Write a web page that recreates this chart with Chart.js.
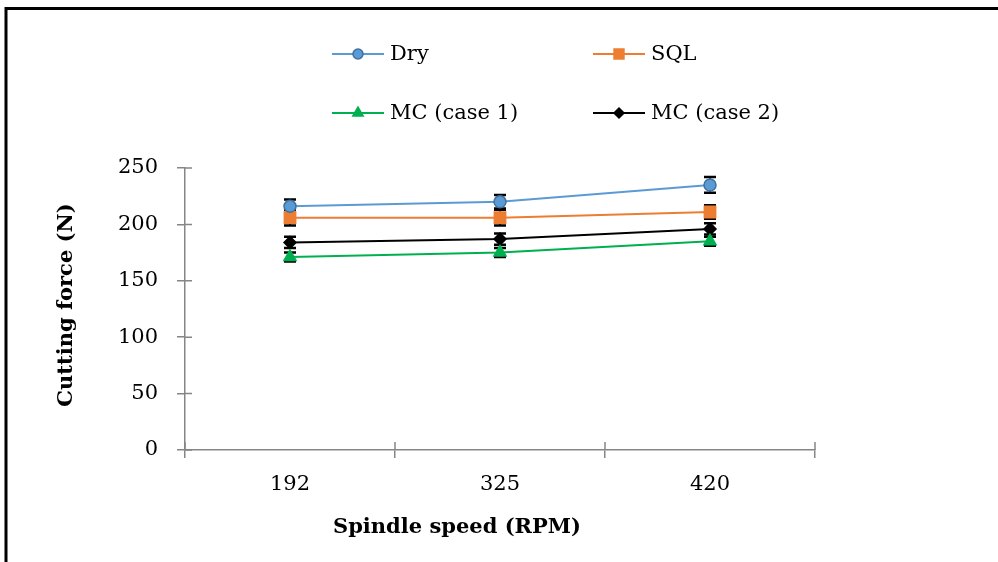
<!DOCTYPE html>
<html>
<head>
<meta charset="utf-8">
<script src="https://cdn.jsdelivr.net/npm/chart.js@4/dist/chart.umd.min.js"></script>
<style>
html, body { margin: 0; padding: 0; background: #fff; }
#wrap { width: 998px; height: 562px; position: relative; }
</style>
</head>
<body>
<div id="wrap"><canvas id="chart-area"></canvas></div>
<script>
var speeds = ["192", "325", "420"];
var dryVals = [216, 220, 235];
var sqlVals = [206, 206, 211];
var mc1Vals = [171, 175, 185];
var mc2Vals = [184, 187, 196];
var dryErr = [6, 6, 7];
var sqlErr = [7, 7, 6];
var mc1Err = [4, 4, 4];
var mc2Err = [5, 5, 5];
var seriesNames = ["Dry", "SQL", "MC (case 1)", "MC (case 2)"];

var serif = "'DejaVu Serif', serif";
var axisGrey = "#868686";

function mkSet(label, vals, errs, line, fill, edge, style, r) {
    return {
        label: label, data: vals, errs: errs,
        borderColor: line, borderWidth: 2,
        pointStyle: style, pointRadius: r, pointHoverRadius: r,
        pointBackgroundColor: fill, pointBorderColor: edge, pointBorderWidth: 1.5,
        tension: 0, fill: false
    };
}

var datasets = [
    mkSet(seriesNames[0], dryVals, dryErr, "#5B9BD5", "#5B9BD5", "#41719C", "circle", 6),
    mkSet(seriesNames[1], sqlVals, sqlErr, "#ED7D31", "#ED7D31", "#ED7D31", "rect", 8),
    mkSet(seriesNames[2], mc1Vals, mc1Err, "#00B050", "#00B050", "#00B050", "triangle", 7),
    mkSet(seriesNames[3], mc2Vals, mc2Err, "#000000", "#000000", "#000000", "rectRot", 6)
];

// error bars, drawn under the markers
var errorBars = {
    id: 'errorBars',
    beforeDatasetsDraw: function(chart) {
        var ctx = chart.ctx, y = chart.scales.y;
        ctx.save();
        ctx.strokeStyle = "#000";
        chart.data.datasets.forEach(function(ds, di) {
            chart.getDatasetMeta(di).data.forEach(function(pt, i) {
                var top = y.getPixelForValue(ds.data[i] + ds.errs[i]);
                var bot = y.getPixelForValue(ds.data[i] - ds.errs[i]);
                ctx.lineWidth = 1.5;
                ctx.beginPath();
                ctx.moveTo(pt.x, top); ctx.lineTo(pt.x, bot);
                ctx.stroke();
                ctx.lineWidth = 2.5;
                ctx.beginPath();
                ctx.moveTo(pt.x - 6, top); ctx.lineTo(pt.x + 6, top);
                ctx.moveTo(pt.x - 6, bot); ctx.lineTo(pt.x + 6, bot);
                ctx.stroke();
            });
        });
        ctx.restore();
    }
};

// inner half of the crossing tick marks, titles, legend and frame
var decor = {
    id: 'decor',
    afterDraw: function(chart) {
        var ctx = chart.ctx, xs = chart.scales.x, ys = chart.scales.y;
        var ca = chart.chartArea;
        ctx.save();
        ctx.strokeStyle = axisGrey;
        ctx.lineWidth = 1.5;
        ctx.beginPath();
        ys.ticks.forEach(function(t) {
            var py = ys.getPixelForValue(t.value);
            ctx.moveTo(ca.left, py); ctx.lineTo(ca.left + 7, py);
        });
        for (var i = 0; i <= speeds.length; i++) {
            var px = xs.getPixelForValue(i - 0.5);
            ctx.moveTo(px, ca.bottom); ctx.lineTo(px, ca.bottom - 8);
        }
        ctx.stroke();

        // axis titles
        ctx.fillStyle = "#000";
        ctx.font = "bold 21px " + serif;
        ctx.textAlign = "center";
        ctx.textBaseline = "middle";
        ctx.fillText("Spindle speed (RPM)", 457, 528);
        ctx.save();
        ctx.translate(67, 305);
        ctx.rotate(-Math.PI / 2);
        ctx.fillText("Cutting force (N)", 0, 0);
        ctx.restore();

        // legend, 2 x 2
        var spots = [[332, 54], [593, 54], [332, 113], [593, 113]];
        var legR = [5, 7, 6, 5];
        ctx.font = "21px " + serif;
        ctx.textAlign = "left";
        chart.data.datasets.forEach(function(ds, di) {
            var lx = spots[di][0], ly = spots[di][1];
            ctx.strokeStyle = ds.borderColor;
            ctx.lineWidth = 2;
            ctx.beginPath();
            ctx.moveTo(lx, ly); ctx.lineTo(lx + 52, ly);
            ctx.stroke();
            ctx.fillStyle = ds.pointBackgroundColor;
            ctx.strokeStyle = ds.pointBorderColor;
            ctx.lineWidth = 1.5;
            Chart.helpers.drawPoint(ctx, {pointStyle: ds.pointStyle, radius: legR[di], rotation: 0, borderWidth: 1.5}, lx + 26, ly);
            ctx.fillStyle = "#000";
            ctx.fillText(ds.label, lx + 58, ly + 1);
        });

        // outer frame
        ctx.strokeStyle = "#000";
        ctx.lineWidth = 3;
        ctx.beginPath();
        ctx.moveTo(6, 562); ctx.lineTo(6, 8.5); ctx.lineTo(998, 8.5);
        ctx.stroke();
        ctx.restore();
    }
};

var config = {
    type: 'line',
    data: { labels: speeds, datasets: datasets },
    options: {
        responsive: true,
        maintainAspectRatio: false,
        animation: false,
        layout: { padding: { top: 168, right: 183, left: 0, bottom: 0 } },
        plugins: { legend: { display: false }, tooltip: { enabled: false } },
        scales: {
            x: {
                type: 'category',
                offset: true,
                grid: { offset: true, drawOnChartArea: false, tickLength: 8, color: axisGrey, lineWidth: 1.5 },
                border: { color: axisGrey, width: 1.5 },
                ticks: { color: "#000", font: { family: serif, size: 21 }, padding: 14, maxRotation: 0 },
                afterFit: function(s) { s.height = 112; }
            },
            y: {
                min: 0, max: 250,
                grid: { drawOnChartArea: false, tickLength: 8, color: axisGrey, lineWidth: 1.5 },
                border: { color: axisGrey, width: 1.5 },
                ticks: { stepSize: 50, color: "#000", font: { family: serif, size: 21 }, padding: 19 },
                afterFit: function(s) { s.width = 185; }
            }
        }
    },
    plugins: [errorBars, decor]
};

window.onload = function() {
    var ctx = document.getElementById("chart-area").getContext("2d");
    window.myLine = new Chart(ctx, config);
};
</script>
</body>
</html>
